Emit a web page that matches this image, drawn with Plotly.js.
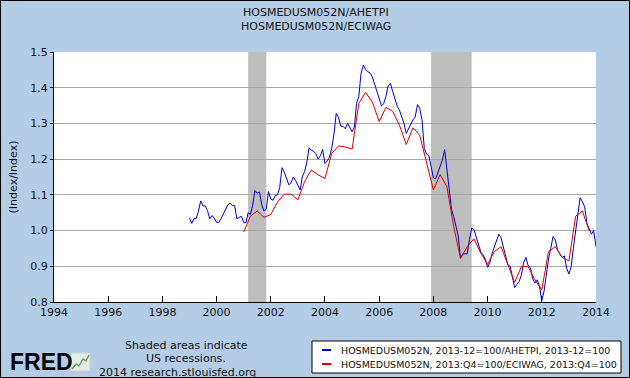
<!DOCTYPE html>
<html>
<head>
<meta charset="utf-8">
<script src="https://cdn.plot.ly/plotly-3.0.1.min.js"></script>
<style>
html,body{margin:0;padding:0;background:#b4cde6;}
#chart{width:630px;height:378px;}
</style>
</head>
<body>
<div id="chart"></div>
<script>
// ---- Data ----
var titleLines = ["HOSMEDUSM052N/AHETPI", "HOSMEDUSM052N/ECIWAG"];
var blueName = "HOSMEDUSM052N, 2013-12=100/AHETPI, 2013-12=100";
var redName  = "HOSMEDUSM052N, 2013:Q4=100/ECIWAG, 2013:Q4=100";
var blueStart = [1999, 1];   // monthly series starts Jan 1999
var blueValues = [
  1.036,1.020,1.033,1.033,1.053,1.083,1.069,1.069,1.056,1.033,1.042,1.035, // 1999
  1.023,1.023,1.033,1.045,1.058,1.072,1.077,1.070,1.070,1.033,1.037,1.040, // 2000
  1.022,1.022,1.050,1.045,1.070,1.112,1.105,1.108,1.072,1.055,1.060,1.109, // 2001
  1.088,1.085,1.098,1.100,1.120,1.176,1.164,1.145,1.128,1.134,1.150,1.140, // 2002
  1.125,1.114,1.150,1.165,1.190,1.232,1.225,1.222,1.215,1.200,1.210,1.227, // 2003
  1.188,1.195,1.205,1.230,1.270,1.328,1.317,1.292,1.292,1.285,1.300,1.290, // 2004
  1.277,1.290,1.356,1.375,1.440,1.463,1.451,1.445,1.441,1.430,1.410,1.390, // 2005
  1.370,1.349,1.355,1.375,1.405,1.412,1.390,1.370,1.348,1.337,1.320,1.300, // 2006
  1.272,1.286,1.300,1.310,1.318,1.353,1.342,1.310,1.230,1.214,1.210,1.180, // 2007
  1.148,1.145,1.160,1.180,1.197,1.227,1.170,1.110,1.060,1.039,1.011,0.985, // 2008
  0.923,0.935,0.935,0.935,0.975,1.007,1.003,0.980,0.955,0.940,0.932,0.920, // 2009
  0.897,0.910,0.935,0.953,0.975,0.990,0.980,0.955,0.925,0.904,0.900,0.868, // 2010
  0.840,0.850,0.857,0.875,0.910,0.925,0.902,0.896,0.865,0.853,0.862,0.844, // 2011
  0.804,0.830,0.878,0.920,0.950,0.983,0.974,0.946,0.934,0.925,0.929,0.895, // 2012
  0.878,0.900,0.950,1.000,1.050,1.092,1.081,1.067,1.020,1.005,0.990,1.000, // 2013
  0.955                                                                     // 2014
];
var redStart = [2001, 1];    // quarterly series starts 2001:Q1
var redValues = [
  0.996,1.040,1.055,1.037, // 2001
  1.045,1.080,1.102,1.102, // 2002
  1.086,1.137,1.170,1.156, // 2003
  1.146,1.216,1.237,1.234, // 2004
  1.228,1.356,1.387,1.360, // 2005
  1.305,1.345,1.334,1.295, // 2006
  1.241,1.288,1.267,1.190, // 2007
  1.114,1.157,1.123,1.011, // 2008
  0.922,0.955,0.977,0.937, // 2009
  0.905,0.941,0.955,0.904, // 2010
  0.855,0.899,0.899,0.862, // 2011
  0.834,0.941,0.955,0.925, // 2012
  0.915,1.040,1.055,1.000  // 2013
];
var recessionStarts = ["2001-03-01", "2007-12-01"];
var recessionEnds   = ["2001-11-01", "2009-06-01"];
var xTickYears = ["1994","1996","1998","2000","2002","2004","2006","2008","2010","2012","2014"];
var yTicks = [0.8,0.9,1.0,1.1,1.2,1.3,1.4,1.5];

// ---- Build dates ----
function pad(n){return (n<10?"0":"")+n;}
function monthDates(start, n, stepMonths){
  var out=[], y=start[0], m=start[1];
  for(var i=0;i<n;i++){
    out.push(y+"-"+pad(m)+"-01");
    m+=stepMonths; while(m>12){m-=12;y++;}
  }
  return out;
}
var blueDates = monthDates(blueStart, blueValues.length, 1);
var redDates  = monthDates(redStart, redValues.length, 3);

// ---- Layout helpers (paper coordinates from pixel positions) ----
var L=54, R=34, T=52, B=76, W=630, H=378;
var pw=W-L-R, ph=H-T-B;
function px(x){return (x-L)/pw;}
function py(y){return (H-B-y)/ph;}

var shapes = [];
for (var i=0;i<recessionStarts.length;i++){
  shapes.push({type:"rect", xref:"x", yref:"paper", x0:recessionStarts[i], x1:recessionEnds[i],
    y0:0, y1:1, fillcolor:"#bebebe", line:{width:0}, layer:"between"});
}
// outer border
shapes.push({type:"rect", xref:"paper", yref:"paper", x0:px(0.5), x1:px(629.5), y0:py(377.5), y1:py(0.5),
  line:{color:"#000", width:1}, fillcolor:"rgba(0,0,0,0)"});
// legend box
shapes.push({type:"rect", xref:"paper", yref:"paper", x0:px(312), x1:px(621), y0:py(373), y1:py(341),
  line:{color:"#000", width:1}, fillcolor:"#ffffff"});
shapes.push({type:"line", xref:"paper", yref:"paper", x0:px(322), x1:px(331), y0:py(350), y1:py(350),
  line:{color:"#0000cc", width:2}});
shapes.push({type:"line", xref:"paper", yref:"paper", x0:px(322), x1:px(331), y0:py(364), y1:py(364),
  line:{color:"#dd0000", width:2}});
// FRED logo icon
shapes.push({type:"rect", xref:"paper", yref:"paper", x0:px(71), x1:px(90), y0:py(371), y1:py(353),
  line:{color:"#c8d4c8", width:1}, fillcolor:"#e6ece6"});
shapes.push({type:"path", xref:"paper", yref:"paper",
  path:"M"+px(72)+","+py(369)+" L"+px(76)+","+py(364)+" L"+px(79)+","+py(366)+" L"+px(83)+","+py(359)+" L"+px(86)+","+py(361)+" L"+px(89)+","+py(355),
  line:{color:"#6b9e5a", width:1.5}});

var annFont = {family:"DejaVu Sans, Verdana, sans-serif", size:11, color:"#111"};
var legFont = {family:"DejaVu Sans, Verdana, sans-serif", size:9.5, color:"#111"};
var annotations = [
  {text:titleLines[0], xref:"paper", yref:"paper", x:px(316), y:py(12), showarrow:false, font:annFont, xanchor:"center", yanchor:"middle"},
  {text:titleLines[1], xref:"paper", yref:"paper", x:px(316), y:py(27), showarrow:false, font:annFont, xanchor:"center", yanchor:"middle"},
  {text:"Shaded areas indicate", xref:"paper", yref:"paper", x:px(186), y:py(345), showarrow:false, font:annFont, xanchor:"center", yanchor:"middle"},
  {text:"US recessions.", xref:"paper", yref:"paper", x:px(186), y:py(358), showarrow:false, font:annFont, xanchor:"center", yanchor:"middle"},
  {text:"2014 research.stlouisfed.org", xref:"paper", yref:"paper", x:px(97), y:py(372), showarrow:false, font:annFont, xanchor:"left", yanchor:"middle"},
  {text:"<b>FRED</b>", xref:"paper", yref:"paper", x:px(8), y:py(362), showarrow:false,
    font:{family:"Liberation Sans, Arial, sans-serif", size:23, color:"#000"}, xanchor:"left", yanchor:"middle"},
  {text:blueName, xref:"paper", yref:"paper", x:px(339), y:py(350), showarrow:false, font:legFont, xanchor:"left", yanchor:"middle"},
  {text:redName, xref:"paper", yref:"paper", x:px(339), y:py(364), showarrow:false, font:legFont, xanchor:"left", yanchor:"middle"}
];

var traces = [
  {x:blueDates, y:blueValues, type:"scatter", mode:"lines", name:blueName, line:{color:"#0000cc", width:1}},
  {x:redDates, y:redValues, type:"scatter", mode:"lines", name:redName, line:{color:"#dd0000", width:1}}
];

var layout = {
  width:W, height:H,
  margin:{l:L, r:R, t:T, b:B, pad:0},
  paper_bgcolor:"#b4cde6",
  plot_bgcolor:"#ffffff",
  showlegend:false,
  xaxis:{type:"date", range:["1994-01-01","2014-01-01"],
    tickvals:xTickYears.map(function(y){return y+"-01-01";}), ticktext:xTickYears,
    ticks:"inside", ticklen:6, tickcolor:"#000", tickwidth:1,
    showgrid:false, showline:true, linecolor:"#000", linewidth:1, zeroline:false,
    tickfont:{family:"DejaVu Sans, Verdana, sans-serif", size:11, color:"#111"}},
  yaxis:{range:[0.8,1.5], tickvals:yTicks, ticktext:yTicks.map(function(v){return v.toFixed(1);}),
    ticks:"outside", ticklen:3, tickcolor:"#000",
    showgrid:true, gridcolor:"#a8a8a8", gridwidth:1, showline:true, linecolor:"#000", linewidth:1, zeroline:false,
    tickfont:{family:"DejaVu Sans, Verdana, sans-serif", size:11, color:"#111"},
    title:{text:"(Index/Index)", standoff:10, font:{family:"DejaVu Sans, Verdana, sans-serif", size:11, color:"#111"}}},
  shapes:shapes,
  annotations:annotations
};

Plotly.newPlot("chart", traces, layout, {displayModeBar:false, staticPlot:true});
</script>
</body>
</html>
